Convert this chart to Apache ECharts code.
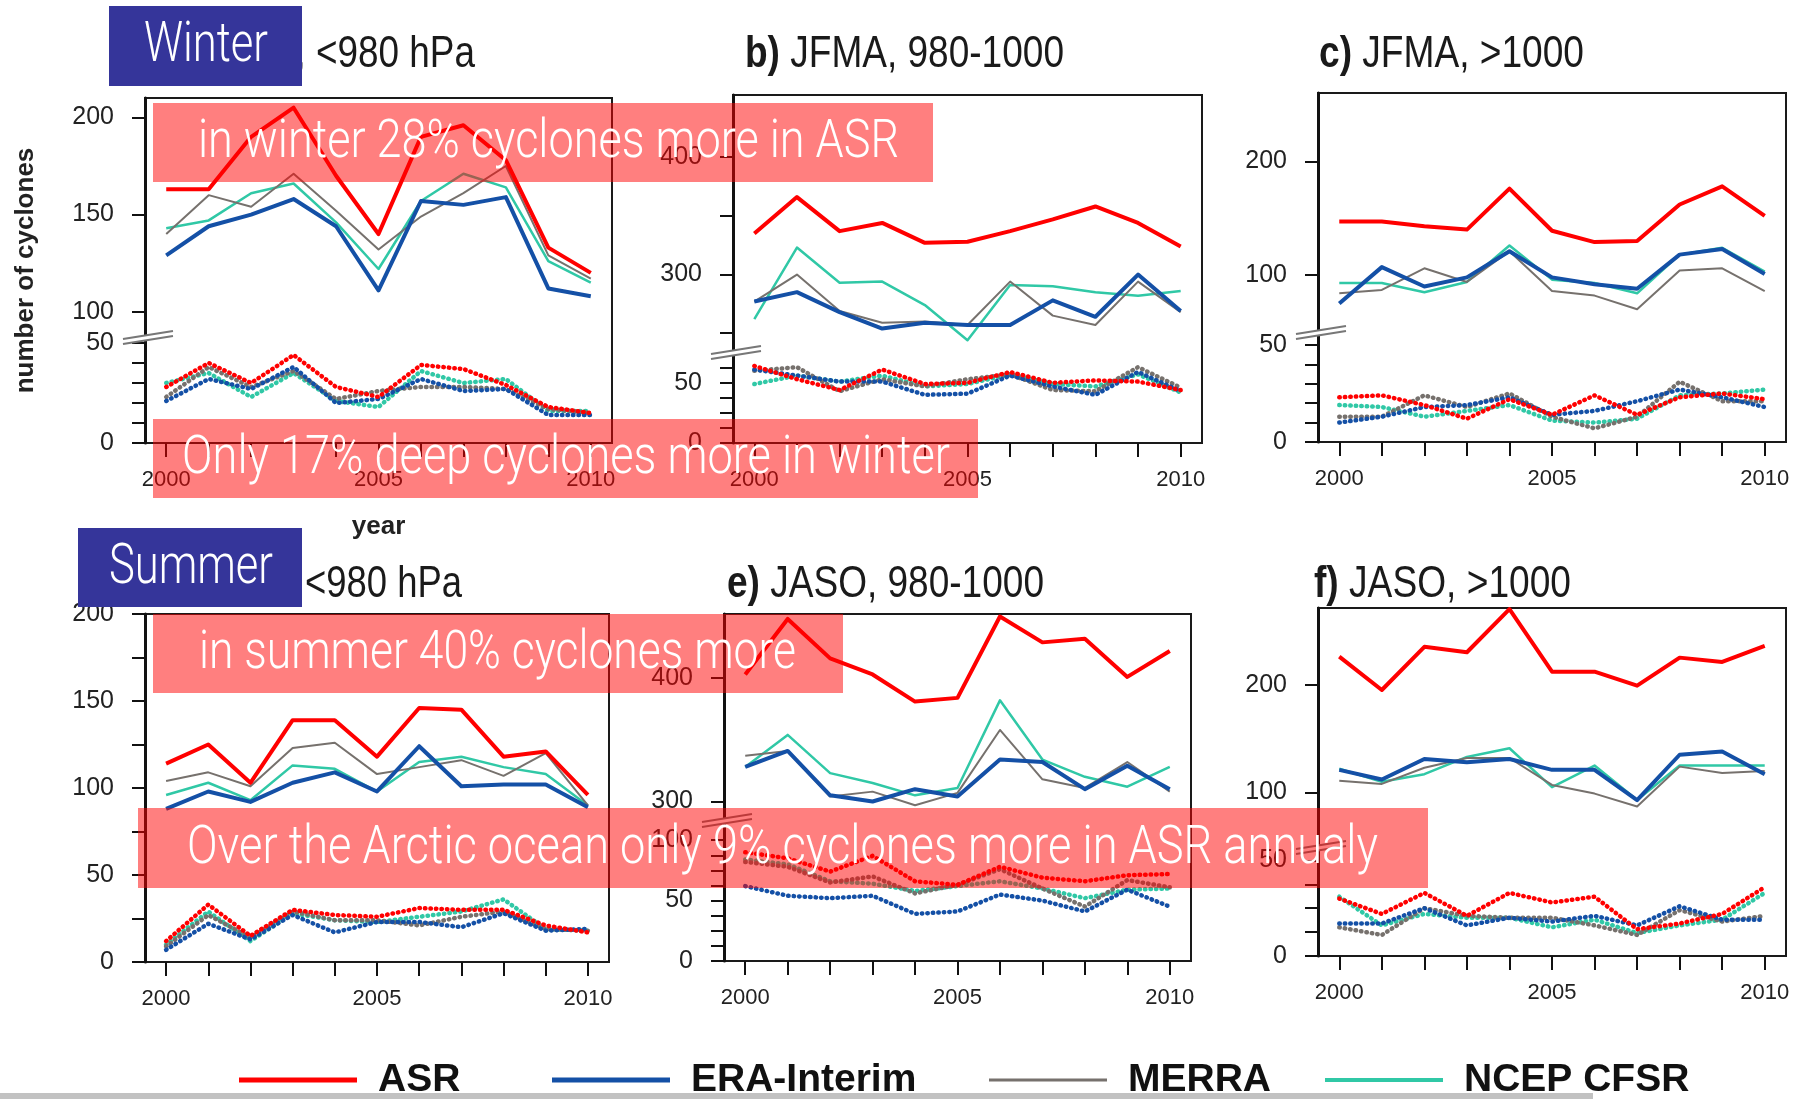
<!DOCTYPE html>
<html><head><meta charset="utf-8">
<script src="https://cdn.jsdelivr.net/npm/echarts@6/dist/echarts.min.js"></script>
<style>html,body{margin:0;padding:0;background:#fff}#c{width:1803px;height:1099px}</style>
</head><body><div id="c"></div>
<script>
// ---------- DATA ----------
const years = ['2000','2001','2002','2003','2004','2005','2006','2007','2008','2009','2010'];
const xLabelYears = ['2000','2005','2010'];

// a) JFMA, <980 hPa  (solid = upper part, dotted = lower part)
const a_ASR   = [163,163,190,205,170,140,190,196,178,133,120];
const a_ERA   = [129,144,150,158,144,111,157,155,159,112,108];
const a_MERRA = [140,160,154,171,152,132,149,161,175,129,117];
const a_NCEP  = [143,147,161,166,146,122,157,171,164,126,115];
const a_ASR_d   = [28,40,30,44,28,23,39,37,29,18,15];
const a_ERA_d   = [21,32,27,38,20,22,32,26,27,14,14];
const a_MERRA_d = [23,38,28,36,22,26,28,28,27,17,15];
const a_NCEP_d  = [30,35,23,35,21,18,36,30,32,16,16];

// b) JFMA, 980-1000
const b_ASR   = [335,366,337,344,327,328,337,347,358,344,324];
const b_ERA   = [277,285,268,254,259,257,257,278,264,300,269];
const b_MERRA = [277,300,269,259,260,257,294,265,257,294,268];
const b_NCEP  = [262,323,293,294,274,244,291,290,285,282,286];
const b_ASR_d   = [64,53,44,61,49,50,59,50,52,51,44];
const b_ERA_d   = [61,56,51,51,40,41,56,47,40,59,43];
const b_MERRA_d = [60,63,43,53,47,53,57,44,43,63,46];
const b_NCEP_d  = [49,56,51,56,47,49,57,49,47,57,42];

// c) JFMA, >1000
const c_ASR   = [147,147,143,140,176,139,129,130,162,178,152];
const c_ERA   = [75,107,90,98,121,98,92,88,118,123,101];
const c_MERRA = [84,87,106,94,121,86,82,70,104,106,86];
const c_NCEP  = [93,93,85,94,126,96,93,84,118,124,103];
const c_ASR_d   = [23,24,19,12,22,14,24,14,23,25,22];
const c_ERA_d   = [10,13,18,19,23,14,16,21,27,23,18];
const c_MERRA_d = [13,13,24,18,25,13,7,13,31,21,21];
const c_NCEP_d  = [19,18,13,16,19,11,10,12,24,25,27];

// d) JASO, <980 hPa
const d_ASR   = [114,125,103,139,139,118,146,145,118,121,96];
const d_ERA   = [88,98,92,103,109,98,124,101,102,102,89];
const d_MERRA = [104,109,101,123,126,108,112,116,107,120,90];
const d_NCEP  = [96,103,93,113,111,98,115,118,112,108,90];
const d_ASR_d   = [12,33,15,30,27,26,31,30,30,21,17];
const d_ERA_d   = [7,22,13,27,17,23,23,20,28,18,19];
const d_MERRA_d = [9,27,14,29,24,24,21,26,29,19,18];
const d_NCEP_d  = [10,29,12,28,24,23,26,29,36,19,18];

// e) JASO, 980-1000
const e_ASR   = [403,448,416,403,381,384,450,429,432,401,422];
const e_ERA   = [328,341,305,300,310,304,334,332,310,329,310];
const e_MERRA = [337,341,304,308,297,307,358,318,311,332,308];
const e_NCEP  = [328,354,323,315,305,311,382,334,320,312,328];
const e_ASR_d   = [90,85,74,87,66,63,78,69,66,71,72];
const e_ERA_d   = [62,54,52,54,39,41,55,50,41,59,45];
const e_MERRA_d = [82,78,65,70,56,63,76,60,45,67,61];
const e_NCEP_d  = [84,80,66,64,58,62,66,60,52,59,60];

// f) JASO, >1000
const f_ASR   = [226,195,235,230,270,212,212,199,225,221,236];
const f_ERA   = [121,112,131,128,131,121,121,93,135,138,117];
const f_MERRA = [111,108,123,132,132,107,99,87,124,118,120];
const f_NCEP  = [122,110,117,133,141,105,125,93,125,125,125];
const f_ASR_d   = [30,22,33,21,33,28,31,14,17,22,36];
const f_ERA_d   = [17,17,25,16,20,18,21,16,26,19,19];
const f_MERRA_d = [15,11,25,21,20,20,16,11,24,18,21];
const f_NCEP_d  = [31,16,22,20,20,15,19,12,16,19,33];

// y tick values / tick labels
const a_upTicks = [100,150,200], a_upLabels = [100,150,200];
const a_lowTicks = [0,10,20,30,40,50], a_lowLabels = [0,50];
const b_upTicks = [250,300,350,400], b_upLabels = [300,400];
const b_lowTicks = [0,12.5,25,37.5,50,62.5], b_lowLabels = [0,50];
const c_upTicks = [100,200], c_upLabels = [100,200];
const c_lowTicks = [0,10,20,30,40,50], c_lowLabels = [0,50];
const d_ticks = [0,25,50,75,100,125,150,175,200], d_labels = [0,50,100,150,200];
const e_upTicks = [300,400], e_upLabels = [300,400];
const e_lowTicks = [0,12.5,25,37.5,50,62.5,75,87.5,100], e_lowLabels = [0,50,100];
const f_upTicks = [100,200], f_upLabels = [100,200];
const f_lowTicks = [0,12.5,25,37.5,50], f_lowLabels = [0,50];

const seriesNames = ['NCEP CFSR','MERRA','ERA-Interim','ASR'];
const titlePrefix = ['a)','b)','c)','d)','e)','f)'];
const titleRest = [' JFMA, <980 hPa',' JFMA, 980-1000',' JFMA, >1000',' JASO, <980 hPa',' JASO, 980-1000',' JASO, >1000'];
const overlayTexts = ['Winter','in winter 28% cyclones more in ASR','Only 17% deep cyclones more in winter',
                      'Summer','in summer 40% cyclones more','Over the Arctic ocean only 9% cyclones more in ASR annualy'];

// ---------- STYLE / LAYOUT ----------
const REG = '"Liberation Sans",Arial,sans-serif';
const sty = {
  'ASR':        {color:'#ff0000', w:4},
  'ERA-Interim':{color:'#1450a6', w:4},
  'MERRA':      {color:'#76716d', w:2},
  'NCEP CFSR':  {color:'#30c8a6', w:2.5}
};
// title placement: either left edge + total width, or right edge + width of the visible "<980 hPa" part
const panels = [
  {tt:{right:475, tailW:159, cy:55},  L:145, R:612, T:98, B:443, brk:337, up:[87,210], upT:a_upTicks, upL:a_upLabels, low:[0,53], lowT:a_lowTicks, lowL:a_lowLabels,
   solid:[a_NCEP,a_MERRA,a_ERA,a_ASR], dotted:[a_NCEP_d,a_MERRA_d,a_ERA_d,a_ASR_d], names:true},
  {tt:{left:745, w:319, cy:55},  L:733, R:1202, T:95, B:443, brk:352, up:[234,453], upT:b_upTicks, upL:b_upLabels, low:[0,75.6], lowT:b_lowTicks, lowL:b_lowLabels,
   solid:[b_NCEP,b_MERRA,b_ERA,b_ASR], dotted:[b_NCEP_d,b_MERRA_d,b_ERA_d,b_ASR_d]},
  {tt:{left:1319, w:265, cy:55}, L:1318, R:1786, T:93, B:442, brk:332, up:[50,260], upT:c_upTicks, upL:c_upLabels, low:[0,56.6], lowT:c_lowTicks, lowL:c_lowLabels,
   solid:[c_NCEP,c_MERRA,c_ERA,c_ASR], dotted:[c_NCEP_d,c_MERRA_d,c_ERA_d,c_ASR_d]},
  {tt:{right:462, tailW:157, cy:585}, L:145, R:609, T:614, B:962, brk:null, low:[0,200], lowT:d_ticks, lowL:d_labels,
   solid:[d_NCEP,d_MERRA,d_ERA,d_ASR], dotted:[d_NCEP_d,d_MERRA_d,d_ERA_d,d_ASR_d]},
  {tt:{left:727, w:317, cy:585},  L:724, R:1191, T:614, B:961, brk:820, up:[285,452], upT:e_upTicks, upL:e_upLabels, low:[0,116.7], lowT:e_lowTicks, lowL:e_lowLabels,
   solid:[e_NCEP,e_MERRA,e_ERA,e_ASR], dotted:[e_NCEP_d,e_MERRA_d,e_ERA_d,e_ASR_d]},
  {tt:{left:1314, w:257, cy:585}, L:1318, R:1786, T:608, B:956, brk:847, up:[49.5,271], upT:f_upTicks, upL:f_upLabels, low:[0,57], lowT:f_lowTicks, lowL:f_lowLabels,
   solid:[f_NCEP,f_MERRA,f_ERA,f_ASR], dotted:[f_NCEP_d,f_MERRA_d,f_ERA_d,f_ASR_d]}
];

const option = {animation:false, backgroundColor:'#fff', grid:[], xAxis:[], yAxis:[], series:[], legend:[], graphic:{elements:[]}};
const G = option.graphic.elements;
const mctx = document.createElement('canvas').getContext('2d');
function tw(text, font){ mctx.font = font; return mctx.measureText(text).width; }

function yAx(gi, range, ticks, labels){
  return {type:'value', gridIndex:gi, min:range[0], max:range[1], splitLine:{show:false},
    axisLine:{show:true, lineStyle:{color:'#111', width:3}},
    axisTick:{show:true, length:13, lineStyle:{color:'#111', width:2}, customValues:ticks},
    axisLabel:{show:true, customValues:labels, margin:31, fontFamily:REG, fontSize:25, color:'#222'}};
}
function xAx(gi, visible){
  return {type:'category', gridIndex:gi, data:years, boundaryGap:true, show:visible,
    axisLine:{show:false},
    axisTick:{show:true, alignWithLabel:true, interval:0, length:14, lineStyle:{color:'#111', width:2}},
    axisLabel:{show:true, interval:(i, v) => xLabelYears.indexOf(v) >= 0, margin:26, fontFamily:REG, fontSize:22, color:'#222'},
    splitLine:{show:false}};
}
function addLines(xi, yi, arrs, dotted){
  arrs.forEach((arr, k) => {
    const nm = seriesNames[k], s = sty[nm];
    option.series.push({name:nm, type:'line', xAxisIndex:xi, yAxisIndex:yi, data:arr, showSymbol:false, symbol:'none', clip:false,
      itemStyle:{color:s.color},
      lineStyle: dotted ? {color:s.color, width:4.5, type:[0.5,5], cap:'round'} : {color:s.color, width:s.w, join:'round'},
      emphasis:{disabled:true}});
  });
}

const TFB = 'bold 44px "Liberation Sans", Arial, sans-serif';
const TFR = '44px "Liberation Sans", Arial, sans-serif';

panels.forEach((p, pi) => {
  const W = p.R - p.L;
  // panel title (bold prefix + regular rest), narrowed horizontally like the original
  const wp = tw(titlePrefix[pi], TFB), wr = tw(titleRest[pi], TFR);
  let sx, x0;
  if (p.tt.left !== undefined) { sx = p.tt.w / (wp + wr); x0 = p.tt.left; }
  else { sx = p.tt.tailW / tw(titleRest[pi].slice(titleRest[pi].indexOf('<')), TFR); x0 = p.tt.right - (wp + wr) * sx; }
  G.push({type:'text', z:20, x:x0, y:p.tt.cy, scaleX:sx, style:{text:titlePrefix[pi], font:TFB, fill:'#1a1a1a', align:'left', verticalAlign:'middle'}});
  G.push({type:'text', z:20, x:x0 + wp * sx, y:p.tt.cy, scaleX:sx, style:{text:titleRest[pi], font:TFR, fill:'#1a1a1a', align:'left', verticalAlign:'middle'}});

  // frame grid
  const fi = option.grid.length;
  option.grid.push({left:p.L, top:p.T, width:W, height:p.B - p.T, show:true, borderColor:'#1a1a1a', borderWidth:2, backgroundColor:'rgba(0,0,0,0)'});
  option.xAxis.push({type:'category', gridIndex:fi, data:years, show:!!p.names, axisLine:{show:false}, axisTick:{show:false}, axisLabel:{show:false},
    name: p.names ? 'year' : '', nameLocation:'middle', nameGap:71, nameTextStyle:{fontFamily:REG, fontSize:26, fontWeight:'bold', color:'#222'}});
  option.yAxis.push({type:'value', gridIndex:fi, show:!!p.names, axisLine:{show:false}, axisTick:{show:false}, axisLabel:{show:false}, splitLine:{show:false},
    name: p.names ? 'number of cyclones' : '', nameLocation:'middle', nameGap:106, nameRotate:90, nameTextStyle:{fontFamily:REG, fontSize:26, fontWeight:'bold', color:'#222'}});
  if (p.brk) {
    const ui = option.grid.length;
    option.grid.push({left:p.L, top:p.T, width:W, height:p.brk - p.T});
    option.xAxis.push(xAx(ui, false));
    option.yAxis.push(yAx(ui, p.up, p.upT, p.upL));
    const li = option.grid.length;
    option.grid.push({left:p.L, top:p.brk, width:W, height:p.B - p.brk});
    option.xAxis.push(xAx(li, true));
    option.yAxis.push(yAx(li, p.low, p.lowT, p.lowL));
    addLines(ui, ui, p.solid, false);
    addLines(li, li, p.dotted, true);
    // axis break marks
    const x1 = p.L - 22, x2 = p.L + 28, y = p.brk;
    G.push({type:'polygon', z:50, shape:{points:[[x1, y+2],[x2, y-6],[x2, y-1],[x1, y+7]]}, style:{fill:'#fff'}});
    G.push({type:'line', z:51, shape:{x1:x1, y1:y+2, x2:x2, y2:y-6}, style:{stroke:'#777', lineWidth:2}});
    G.push({type:'line', z:51, shape:{x1:x1, y1:y+7, x2:x2, y2:y-1}, style:{stroke:'#777', lineWidth:2}});
  } else {
    const si = option.grid.length;
    option.grid.push({left:p.L, top:p.T, width:W, height:p.B - p.T});
    option.xAxis.push(xAx(si, true));
    option.yAxis.push(yAx(si, p.low, p.lowT, p.lowL));
    addLines(si, si, p.solid, false);
    addLines(si, si, p.dotted, true);
  }
});

// legend (one component per entry, positioned like the original)
const legendPos = [
  {name:'ASR', left:239, h:5}, {name:'ERA-Interim', left:552, h:5},
  {name:'MERRA', left:989, h:3}, {name:'NCEP CFSR', left:1325, h:4}
];
legendPos.forEach(l => {
  option.legend.push({data:[{name:l.name, icon:'rect', itemStyle:{color:sty[l.name].color}}], left:l.left, top:1056,
    itemWidth:118, itemHeight:l.h, selectedMode:false, padding:0,
    textStyle:{fontFamily:REG, fontSize:39, fontWeight:'bold', color:'#111', padding:[0,0,0,16], lineHeight:48}});
});

// bottom gray strip
G.push({type:'rect', z:1, shape:{x:0, y:1093, width:1593, height:6}, style:{fill:'#c2c2c2'}});

// annotation overlays
const NAVY = '#35359a', PINK = 'rgba(255,0,0,0.5)';
const boxes = [
  {x:109, y:6,   w:193,  h:80, fill:NAVY, tx:144, tw:124,  size:56},
  {x:153, y:103, w:780,  h:79, fill:PINK, tx:198, tw:701,  size:54},
  {x:153, y:419, w:825,  h:79, fill:PINK, tx:182, tw:768,  size:54},
  {x:78,  y:528, w:224,  h:79, fill:NAVY, tx:109, tw:164,  size:56},
  {x:153, y:614, w:690,  h:79, fill:PINK, tx:199, tw:597,  size:54},
  {x:138, y:808, w:1290, h:80, fill:PINK, tx:187, tw:1191, size:54}
];
boxes.forEach((b, i) => {
  const font = '300 ' + b.size + 'px Roboto, "Noto Sans", sans-serif';
  const sx = b.tw / tw(overlayTexts[i], font);
  G.push({type:'rect', z:100, shape:{x:b.x, y:b.y, width:b.w, height:b.h}, style:{fill:b.fill}});
  G.push({type:'text', z:101, x:b.tx, y:b.y + b.h/2 + 1, scaleX:sx,
    style:{text:overlayTexts[i], font:font, fill:'#fff', align:'left', verticalAlign:'middle'}});
});

const chart = echarts.init(document.getElementById('c'), null, {renderer:'canvas'});
chart.setOption(option);
</script></body></html>
